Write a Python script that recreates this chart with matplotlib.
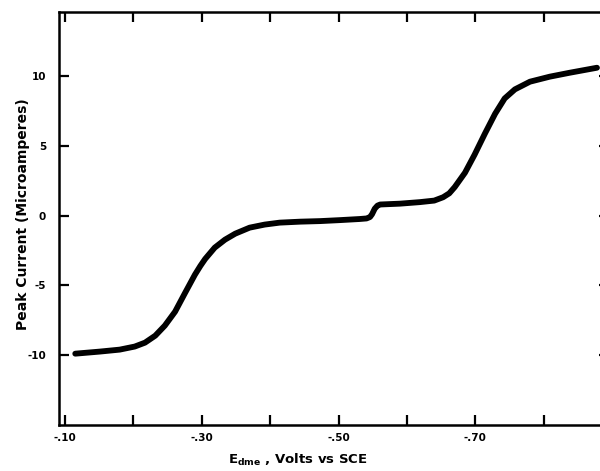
import numpy as np
import matplotlib.pyplot as plt

# polarogram trace: E (V vs SCE) and peak current (uA)
e_volts = [-0.115, -0.151, -0.180, -0.202, -0.217, -0.232, -0.246, -0.261,
           -0.275, -0.290, -0.298, -0.305, -0.319, -0.334, -0.349, -0.370,
           -0.392, -0.414, -0.444, -0.473, -0.502, -0.531, -0.541, -0.546,
           -0.549, -0.553, -0.557, -0.561, -0.590, -0.619, -0.640, -0.653,
           -0.662, -0.670, -0.685, -0.699, -0.714, -0.729, -0.743, -0.758,
           -0.780, -0.809, -0.838, -0.878]
i_peak = [-9.89, -9.74, -9.60, -9.38, -9.10, -8.60, -7.88, -6.88,
          -5.59, -4.23, -3.60, -3.10, -2.29, -1.72, -1.29, -0.86,
          -0.64, -0.50, -0.43, -0.39, -0.32, -0.24, -0.20, -0.10,
          0.10, 0.50, 0.72, 0.80, 0.86, 0.97, 1.08, 1.32,
          1.60, 2.05, 3.08, 4.37, 5.87, 7.30, 8.40, 9.05,
          9.60, 9.96, 10.24, 10.60]

x_ticks = [-0.10, -0.20, -0.30, -0.40, -0.50, -0.60, -0.70, -0.80]
x_labels = ["-.10", "", "-.30", "", "-.50", "", "-.70", ""]
y_ticks = [-10, -5, 0, 5, 10]
y_labels = ["-10", "-5", "0", "5", "10"]

plt.rcParams['font.family'] = ['DejaVu Sans']

fig = plt.figure(figsize=(6, 4.71), dpi=100)
ax = fig.add_axes([0.0975, 0.0977, 0.906, 0.877])

ax.plot(e_volts, i_peak, color="black", lw=4.2, solid_capstyle="round",
        solid_joinstyle="round")

ax.set_xlim(-0.0905, -0.8855)
ax.set_ylim(-15.0, 14.6)

ax.set_xticks(x_ticks)
ax.set_xticklabels(x_labels, fontsize=7.5, fontweight="bold")
ax.set_yticks(y_ticks)
ax.set_yticklabels(y_labels, fontsize=7.5, fontweight="bold")
ax.tick_params(direction="in", length=7, width=1.6, top=True, pad=6)
ax.tick_params(axis="y", length=7, pad=9, right=True)
for t in ax.yaxis.get_major_ticks():
    t.tick2line.set_markersize(2)

for s in ax.spines.values():
    s.set_linewidth(1.8)

ax.set_ylabel("Peak Current (Microamperes)", fontsize=10, fontweight="bold")
ax.yaxis.set_label_coords(-0.053, 0.51)
ax.set_xlabel(r"E$_{\mathbf{dme}}$ , Volts vs SCE", fontsize=9.5,
              fontweight="bold")
ax.xaxis.set_label_coords(0.44, -0.066)

fig.savefig("out.png", dpi=100)
